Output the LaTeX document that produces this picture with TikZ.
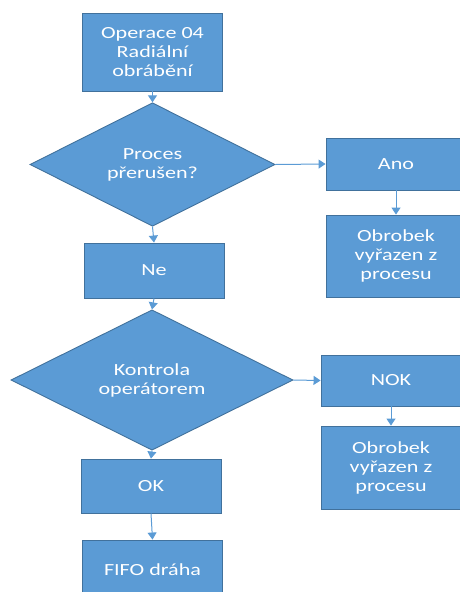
\documentclass[tikz,border=0pt]{standalone}
\usepackage{fontspec}
\setmainfont{Carlito}[FakeStretch=1.3]
\usetikzlibrary{shapes.geometric,arrows.meta}
\definecolor{boxfill}{HTML}{5B9BD5}
\definecolor{boxline}{HTML}{41719C}
\definecolor{linkcol}{HTML}{5B9BD5}
\begin{document}
\begin{tikzpicture}[x=1pt,y=-1pt,
  every node/.style={font=\fontsize{17}{19}\selectfont, text=white, align=center, inner sep=0pt},
  stepbox/.style={rectangle, draw=boxline, line width=0.9pt, fill=boxfill, minimum width=140pt},
  decision/.style={diamond, draw=boxline, line width=0.9pt, fill=boxfill},
  link/.style={draw=linkcol, line width=1pt, -{Triangle[length=7pt,width=9pt]}}
]
\useasboundingbox (0,0) rectangle (460,592);
\clip (0,0) rectangle (460,592);

% main column
\node[stepbox, minimum height=78pt] (op) at (152.5,52) {Operace 04\\Radiální\\obrábění};
\node[decision, minimum width=245pt, minimum height=105pt] (d1) at (152.5,164.5) {Proces\\přerušen?};
\node[stepbox, minimum height=55pt] (ne) at (154,270.5) {Ne};
\node[decision, minimum width=282pt, minimum height=110pt] (d2) at (152,380) {Kontrola\\operátorem};
\node[stepbox, minimum height=54pt] (ok) at (151,486) {OK};
\node[stepbox, minimum height=60pt] (fifo) at (152.5,570) {FIFO dráha};

% side branches
\node[stepbox, minimum height=52pt] (ano) at (396,164) {Ano};
\node[stepbox, minimum height=82pt] (ob1) at (396,256) {Obrobek\\vyřazen z\\procesu};
\node[stepbox, minimum height=51pt] (nok) at (391,380.5) {NOK};
\node[stepbox, minimum height=83pt] (ob2) at (391,467.5) {Obrobek\\vyřazen z\\procesu};

% connectors
\draw[link] (op.south) -- (d1.north);
\draw[link] (d1.south) -- (ne.north);
\draw[link] (ne.south) -- (d2.north);
\draw[link] (d2.south) -- (ok.north);
\draw[link] (ok.south) -- (fifo.north);
\draw[link] (d1.east) -- (ano.west);
\draw[link] (ano.south) -- (ob1.north);
\draw[link] (d2.east) -- (nok.west);
\draw[link] (nok.south) -- (ob2.north);
\end{tikzpicture}
\end{document}
